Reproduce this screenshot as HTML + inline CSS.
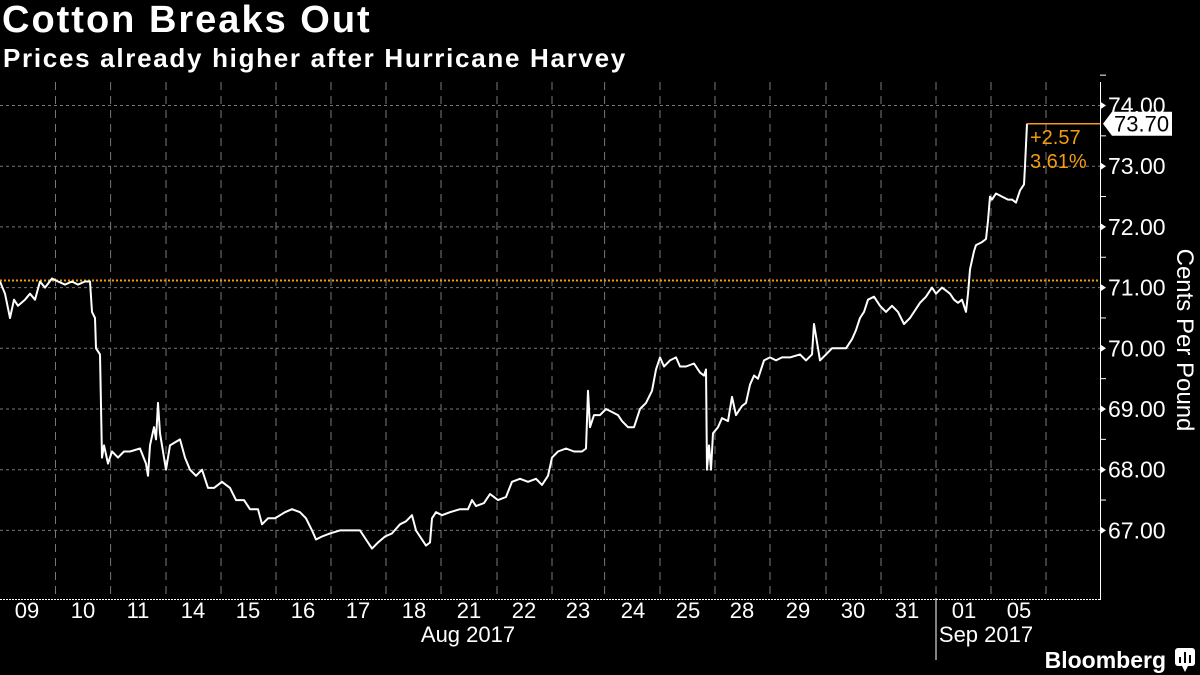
<!DOCTYPE html>
<html><head><meta charset="utf-8">
<style>
html,body{margin:0;padding:0;background:#000;}
body{width:1200px;height:675px;overflow:hidden;position:relative;font-family:"Liberation Sans",sans-serif;color:#fff;}
.t{position:absolute;left:2px;top:-1px;font-size:38px;font-weight:bold;letter-spacing:2px;}
.s{position:absolute;left:3px;top:43px;font-size:26px;font-weight:bold;letter-spacing:1.7px;}
</style></head><body>
<div class="t">Cotton Breaks Out</div>
<div class="s">Prices already higher after Hurricane Harvey</div>
<svg id="c" width="1200" height="675" style="position:absolute;left:0;top:0" font-family="Liberation Sans, sans-serif"></svg>
<script>
const svg=document.getElementById('c');
const Y=v=>105.5+(74-v)*60.7;
let h='';
for(let v=67;v<=74;v++){h+=`<line x1="0" x2="1100" y1="${Y(v)}" y2="${Y(v)}" stroke="#777" stroke-width="1" stroke-dasharray="3,3"/>`;
h+=`<text x="1108" y="${Y(v)+8}" font-size="23" fill="#fff">${v.toFixed(2)}</text>`;
h+=`<polygon points="1100,${Y(v)-4} 1106,${Y(v)} 1100,${Y(v)+4}" fill="#fff"/>`;
h+=`<line x1="1100" x2="1106" y1="${Y(v+0.5)}" y2="${Y(v+0.5)}" stroke="#fff"/>`;}
const vx=[55.5,110.6,166,221,276,331,386,441,497,552,604.6,660,715,770,826,881,991,1046];
for(const x of vx){h+=`<line x1="${x}" x2="${x}" y1="82" y2="598" stroke="#777" stroke-dasharray="8,6"/>`;}
h+=`<line x1="936" x2="936" y1="82" y2="598" stroke="#777" stroke-dasharray="8,6"/>`;
h+=`<line x1="936" x2="936" y1="598" y2="660" stroke="#fff"/>`;
h+=`<line x1="1100.5" x2="1100.5" y1="82" y2="600" stroke="#fff"/>`;
h+=`<line x1="0" x2="1100" y1="599.5" y2="599.5" stroke="#fff" stroke-dasharray="2,1"/>`;
const lab=[["09",27],["10",83],["11",138],["14",193],["15",248],["16",303],["17",358],["18",414],["21",469],["22",524],["23",578],["24",633],["25",688],["28",742],["29",798],["30",853],["31",907],["01",964],["05",1019]];
for(const [t,x] of lab)h+=`<text x="${x}" y="618" font-size="22" fill="#fff" text-anchor="middle">${t}</text>`;
h+=`<text x="468" y="642" font-size="22" fill="#fff" text-anchor="middle">Aug 2017</text>`;
h+=`<text x="986" y="642" font-size="22" fill="#fff" text-anchor="middle">Sep 2017</text>`;
h+=`<line x1="0" x2="1100" y1="280.5" y2="280.5" stroke="#f39c12" stroke-width="2" stroke-dasharray="2,2"/>`;
const d=[0,71.1,5,70.9,10,70.5,14,70.8,18,70.7,25,70.8,30,70.9,35,70.8,40,71.1,45,71.0,52,71.15,58,71.1,65,71.05,72,71.1,78,71.05,85,71.1,90,71.1,92,70.6,95,70.5,96,70.0,100,69.9,102,68.2,104,68.4,108,68.1,112,68.3,118,68.2,124,68.3,130,68.3,140,68.35,146,68.1,148,67.9,150,68.4,154,68.7,156,68.5,158,69.1,160,68.6,163,68.3,166,68.0,170,68.4,175,68.45,180,68.5,185,68.2,190,68.0,196,67.9,202,68.0,208,67.7,214,67.7,222,67.8,230,67.7,236,67.5,244,67.5,250,67.35,258,67.35,262,67.1,268,67.2,275,67.2,285,67.3,292,67.35,300,67.3,306,67.2,312,67.0,316,66.85,322,66.9,330,66.95,340,67.0,350,67.0,360,67.0,366,66.85,372,66.7,378,66.8,385,66.9,392,66.95,400,67.1,406,67.15,412,67.25,416,67.0,420,66.9,426,66.75,430,66.8,432,67.2,436,67.3,442,67.25,450,67.3,460,67.35,468,67.35,472,67.5,476,67.4,484,67.45,490,67.6,498,67.5,506,67.55,512,67.8,520,67.85,528,67.8,536,67.85,542,67.75,548,67.9,552,68.2,558,68.3,566,68.35,574,68.3,582,68.3,586,68.35,588,69.3,590,68.7,594,68.9,600,68.9,606,69.0,612,68.95,618,68.9,622,68.8,628,68.7,634,68.7,640,69.0,646,69.1,652,69.3,656,69.65,660,69.85,664,69.7,670,69.8,676,69.85,680,69.7,686,69.7,694,69.75,700,69.6,704,69.55,706,69.65,707,68.0,709,68.4,711,68.0,713,68.6,718,68.7,722,68.85,728,68.8,732,69.2,736,68.9,742,69.05,746,69.1,750,69.4,754,69.55,758,69.5,764,69.8,770,69.85,776,69.8,782,69.85,790,69.85,800,69.9,806,69.8,812,69.9,814,70.4,818,70.0,820,69.8,826,69.9,832,70.0,840,70.0,846,70.0,852,70.15,856,70.3,860,70.5,864,70.6,868,70.8,874,70.85,880,70.7,886,70.6,892,70.7,898,70.6,904,70.4,910,70.5,914,70.6,920,70.75,926,70.85,932,71.0,936,70.9,942,71.0,946,70.95,950,70.9,954,70.8,958,70.75,962,70.8,966,70.6,968,70.9,970,71.3,974,71.6,976,71.7,982,71.75,986,71.8,988,72.1,990,72.5,992,72.45,996,72.55,1002,72.5,1008,72.45,1012,72.45,1016,72.4,1020,72.6,1024,72.7,1025,73.0,1027,73.70];
let p=[];for(let i=0;i<d.length;i+=2)p.push(d[i]+','+Y(d[i+1]).toFixed(1));
h+=`<polyline points="${p.join(' ')}" fill="none" stroke="#fff" stroke-width="2" stroke-linejoin="round"/>`;
const ly=Y(73.7);
h+=`<line x1="1027" x2="1100" y1="${ly}" y2="${ly}" stroke="#f39c12" stroke-width="1.5"/>`;
h+=`<polygon points="1103,${ly} 1112,${ly-12} 1172,${ly-12} 1172,${ly+12} 1112,${ly+12}" fill="#fff"/>`;
h+=`<text x="1114" y="${ly+8}" font-size="22" fill="#000">73.70</text>`;
h+=`<text x="1030" y="144" font-size="20" fill="#f39c12">+2.57</text>`;
h+=`<text x="1030" y="168" font-size="20" fill="#f39c12">3.61%</text>`;
h+=`<text transform="translate(1177,340) rotate(90)" font-size="24" fill="#fff" text-anchor="middle">Cents Per Pound</text>`;
h+=`<text x="1166" y="668" font-size="23" font-weight="bold" fill="#fff" text-anchor="end">Bloomberg</text>`;
h+=`<rect x="1175" y="648" width="20" height="18" rx="3" fill="#fff"/><polygon points="1182,666 1185,672 1188,666" fill="#fff"/>`;
h+=`<rect x="1179" y="657" width="2" height="6" fill="#000"/><rect x="1184" y="652" width="2" height="11" fill="#000"/><rect x="1189" y="655" width="2" height="8" fill="#000"/>`;
svg.innerHTML=h;
</script>
</body></html>
